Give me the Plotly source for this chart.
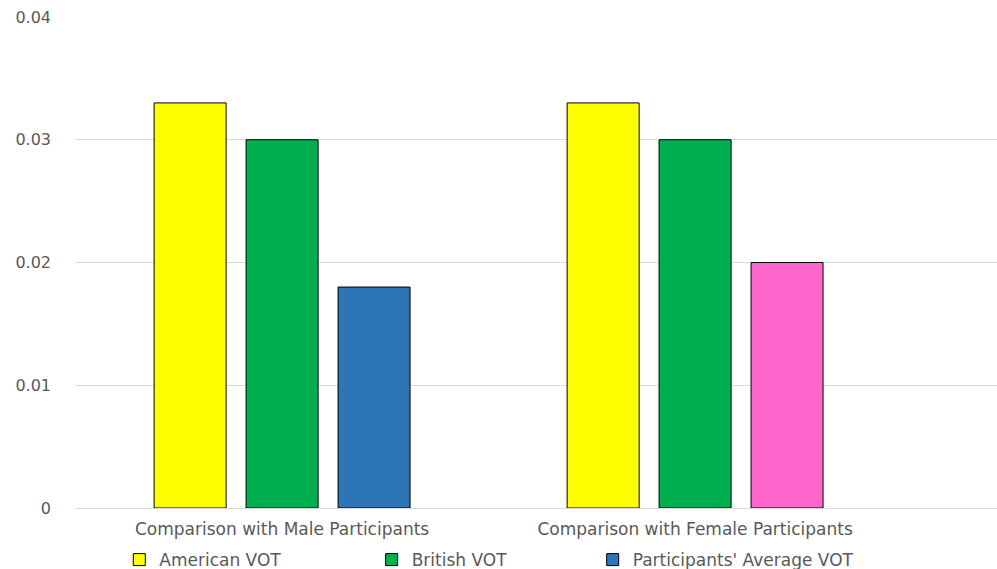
import plotly.graph_objects as go

categories = ["Comparison with Male Participants", "Comparison with Female Participants"]
american_vot = [0.033, 0.033]
british_vot = [0.030, 0.030]
participants_vot = [0.018, 0.020]
participants_colors = ["#2E75B6", "#FF66CC"]
y_ticks = [0, 0.01, 0.02, 0.03, 0.04]
y_tick_labels = ["0", "0.01", "0.02", "0.03", "0.04"]

FONT = "DejaVu Sans"
GREY = "#595959"
outline = dict(color="#000000", width=1)

fig = go.Figure()
fig.add_trace(go.Bar(name="American VOT", x=categories, y=american_vot,
                     marker=dict(color="#FFFF00", line=outline), legend="legend"))
fig.add_trace(go.Bar(name="British VOT", x=categories, y=british_vot,
                     marker=dict(color="#00B050", line=outline), legend="legend2"))
fig.add_trace(go.Bar(name="Participants' Average VOT", x=categories, y=participants_vot,
                     marker=dict(color=participants_colors, line=outline), legend="legend3"))

leg_common = dict(orientation="h", yanchor="middle", xanchor="left", y=-0.106,
                  font=dict(family=FONT, size=17, color=GREY), bgcolor="rgba(0,0,0,0)",
                  borderwidth=0)

fig.update_layout(
    width=997, height=569,
    margin=dict(l=76, r=0, t=17, b=61, autoexpand=False),
    paper_bgcolor="white", plot_bgcolor="white",
    barmode="group", bargap=0.332, bargroupgap=0.217,
    showlegend=True,
    font=dict(family=FONT, color=GREY),
    legend=dict(x=0.047, **leg_common),
    legend2=dict(x=0.321, **leg_common),
    legend3=dict(x=0.561, **leg_common),
    xaxis=dict(type="category", range=[-0.499, 1.731], showgrid=False,
               showline=True, linecolor="#D9D9D9", linewidth=1, ticks="",
               tickfont=dict(family=FONT, size=17, color=GREY),
               ticklabelstandoff=6, zeroline=False),
    yaxis=dict(range=[0, 0.04], tickvals=y_ticks, ticktext=y_tick_labels,
               showgrid=True, gridcolor="#D9D9D9", gridwidth=1, zeroline=False,
               showline=False, ticks="",
               tickfont=dict(family=FONT, size=16, color=GREY),
               ticklabelstandoff=24),
)

fig.write_html("out.html")
